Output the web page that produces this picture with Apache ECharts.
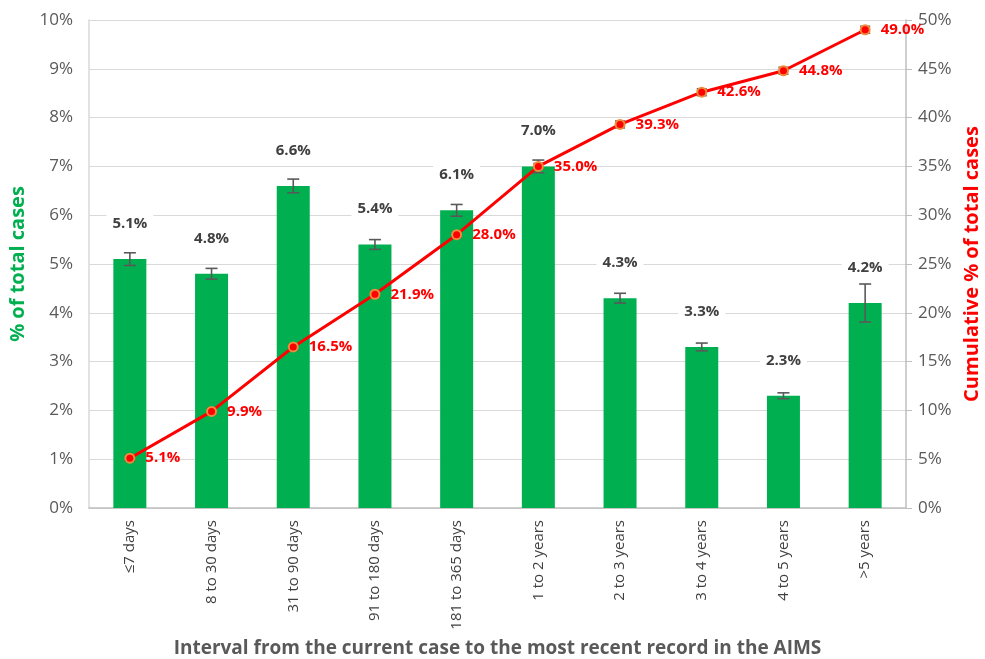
<!DOCTYPE html>
<html>
<head>
<meta charset="utf-8">
<script src="https://cdn.jsdelivr.net/npm/echarts@6/dist/echarts.min.js"></script>
<style>
  html, body { margin: 0; padding: 0; background: #fff; }
  #chart { width: 985px; height: 659px; }
</style>
</head>
<body>
<div id="chart"></div>
<script>
// Interval categories
const categories = ['≤7 days', '8 to 30 days', '31 to 90 days', '91 to 180 days', '181 to 365 days',
  '1 to 2 years', '2 to 3 years', '3 to 4 years', '4 to 5 years', '>5 years'];
// Share of total cases per interval (%)
const shareValues = [5.1, 4.8, 6.6, 5.4, 6.1, 7.0, 4.3, 3.3, 2.3, 4.2];
// Error half-widths for the share bars (%)
const shareErrors = [0.13, 0.11, 0.14, 0.10, 0.12, 0.13, 0.10, 0.08, 0.06, 0.39];
// Cumulative share of total cases (%)
const cumulativeValues = [5.1, 9.9, 16.5, 21.9, 28.0, 35.0, 39.3, 42.6, 44.8, 49.0];
// Error half-widths for the cumulative line (%)
const cumulativeErrors = [0.3, 0.3, 0.3, 0.3, 0.3, 0.3, 0.35, 0.35, 0.35, 0.35];
// Axis ticks
const leftTicks = { min: 0, max: 10, interval: 1 };
const rightTicks = { min: 0, max: 50, interval: 5 };

const FONT = '"Open Sans", "Liberation Sans", sans-serif';
const GREY = '#595959';

function errorData(vals, errs) {
  return vals.map((v, i) => [i, v - errs[i], v + errs[i]]);
}

function errorRenderer(cap) {
  return function (params, api) {
    const x = api.value(0);
    const lo = api.coord([x, api.value(1)]);
    const hi = api.coord([x, api.value(2)]);
    const style = { stroke: '#595959', lineWidth: 1.6 };
    return {
      type: 'group',
      children: [
        { type: 'line', shape: { x1: lo[0], y1: lo[1], x2: hi[0], y2: hi[1] }, style },
        { type: 'line', shape: { x1: hi[0] - cap, y1: hi[1], x2: hi[0] + cap, y2: hi[1] }, style },
        { type: 'line', shape: { x1: lo[0] - cap, y1: lo[1], x2: lo[0] + cap, y2: lo[1] }, style }
      ]
    };
  };
}

const chart = echarts.init(document.getElementById('chart'), null, { renderer: 'canvas' });
chart.setOption({
  backgroundColor: '#ffffff',
  animation: false,
  textStyle: { fontFamily: FONT },
  grid: { left: 89, right: 79, top: 20, bottom: 151, containLabel: false, outerBoundsMode: 'none' },
  xAxis: {
    type: 'category',
    data: categories,
    name: 'Interval from the current case to the most recent record in the AIMS',
    nameLocation: 'middle',
    nameGap: 131,
    nameTextStyle: { color: GREY, fontSize: 19, fontWeight: 'bold', fontFamily: FONT },
    axisLine: { lineStyle: { color: '#bfbfbf', width: 1.5 } },
    axisTick: { show: false },
    axisLabel: { rotate: 90, color: '#404040', fontSize: 15, fontFamily: FONT, margin: 12 }
  },
  yAxis: [
    {
      type: 'value',
      min: leftTicks.min, max: leftTicks.max, interval: leftTicks.interval,
      name: '% of total cases',
      nameLocation: 'middle',
      nameGap: 61,
      nameTextStyle: { color: '#00B050', fontSize: 20, fontWeight: 'bold', fontFamily: FONT },
      axisLine: { show: true, lineStyle: { color: '#d9d9d9', width: 1.5 } },
      axisTick: { show: false },
      axisLabel: { color: GREY, fontSize: 17, fontFamily: FONT, margin: 16, formatter: v => v + '%' },
      splitLine: { lineStyle: { color: '#d9d9d9', width: 1.2 } }
    },
    {
      type: 'value',
      min: rightTicks.min, max: rightTicks.max, interval: rightTicks.interval,
      name: 'Cumulative % of total cases',
      nameLocation: 'middle',
      nameGap: 56,
      nameRotate: 90,
      nameTextStyle: { color: '#FF0000', fontSize: 20, fontWeight: 'bold', fontFamily: FONT },
      position: 'right',
      axisLine: { show: true, lineStyle: { color: '#bfbfbf', width: 1.5 } },
      axisTick: { show: true, length: 6, inside: false, lineStyle: { color: '#bfbfbf' } },
      axisLabel: { color: GREY, fontSize: 17, fontFamily: FONT, margin: 12, formatter: v => v + '%' },
      splitLine: { show: false }
    }
  ],
  series: [
    {
      type: 'bar',
      data: shareValues,
      barWidth: 33,
      itemStyle: { color: '#00B050' },
      label: {
        show: true,
        position: 'top',
        distance: 26,
        formatter: p => p.value.toFixed(1) + '%',
        color: '#404040',
        fontSize: 15,
        fontWeight: 'bold',
        fontFamily: FONT,
        backgroundColor: '#ffffff',
        padding: [2, 6]
      },
      z: 2
    },
    {
      type: 'custom',
      data: errorData(shareValues, shareErrors),
      renderItem: errorRenderer(6),
      encode: { x: 0, y: [1, 2] },
      z: 3
    },
    {
      type: 'custom',
      yAxisIndex: 1,
      data: errorData(cumulativeValues, cumulativeErrors),
      renderItem: errorRenderer(5),
      encode: { x: 0, y: [1, 2] },
      z: 4
    },
    {
      type: 'line',
      yAxisIndex: 1,
      data: cumulativeValues,
      lineStyle: { color: '#FF0000', width: 3 },
      symbol: 'circle',
      symbolSize: 9,
      itemStyle: { color: '#FF0000', borderColor: '#F08A3C', borderWidth: 2 },
      label: {
        show: true,
        position: 'right',
        distance: 10,
        formatter: p => p.value.toFixed(1) + '%',
        color: '#FF0000',
        fontSize: 15,
        fontWeight: 'bold',
        fontFamily: FONT
      },
      z: 5
    }
  ]
});
</script>
</body>
</html>
